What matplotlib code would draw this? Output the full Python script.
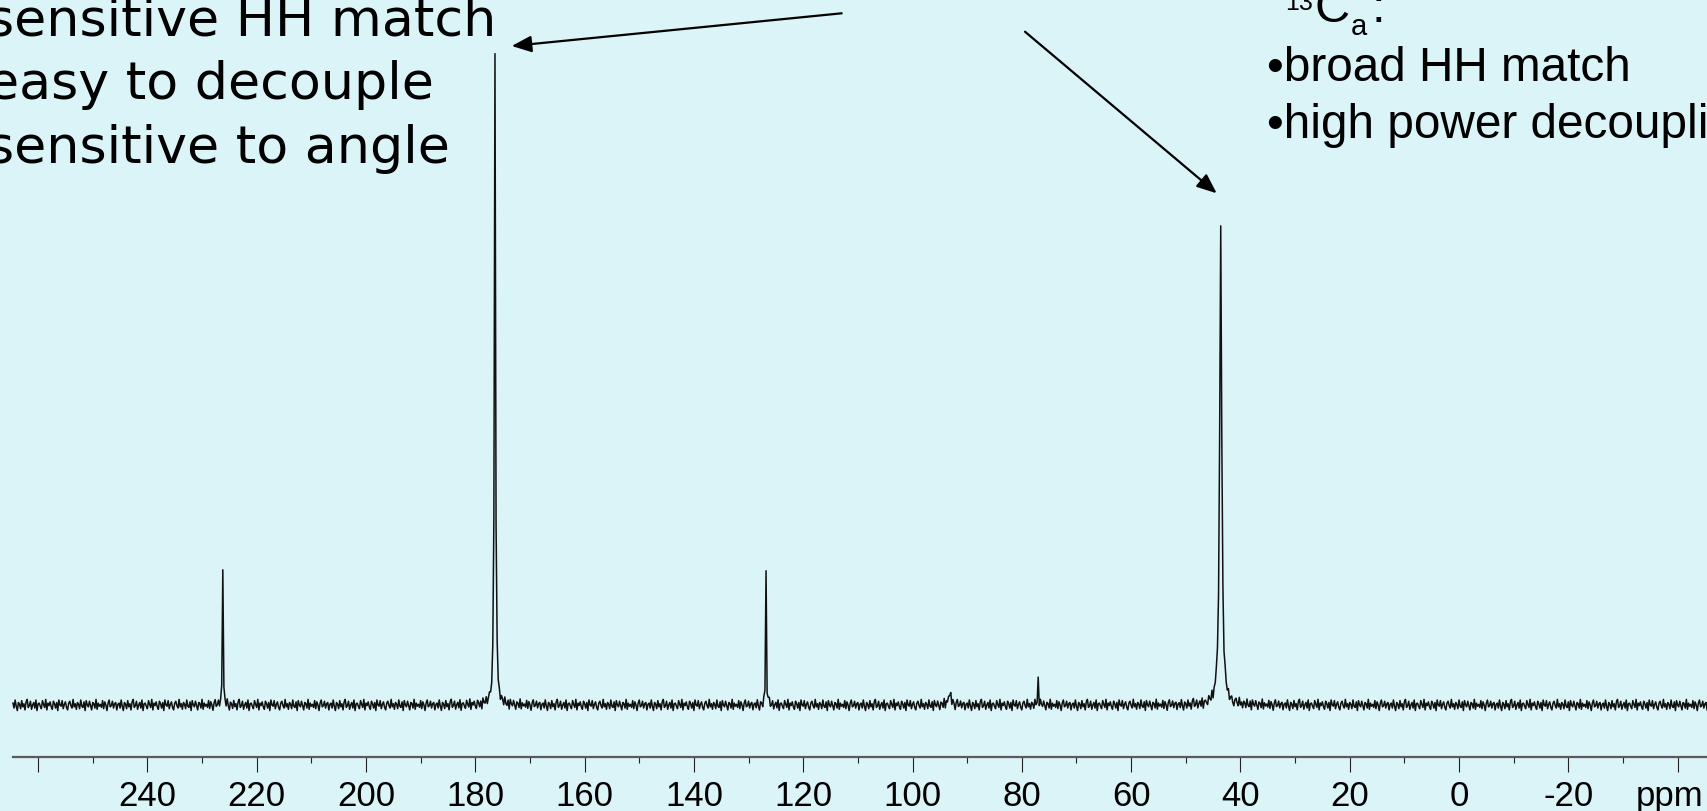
import numpy as np
import matplotlib
matplotlib.use("Agg")
import matplotlib.pyplot as plt
from matplotlib.patches import FancyArrowPatch

# ---- spectrum data ----------------------------------------------------
peak_ppm = [226.2, 176.4, 126.8, 93.2, 77.0, 43.6]
peak_height = [21.5, 100.0, 20.4, 1.8, 3.8, 73.3]
peak_fwhm = [0.15, 0.25, 0.15, 0.6, 0.2, 0.45]

# baseline ripple pattern (repeated along the chemical-shift axis)
baseline_ripple = [0.3, -0.5, 0.8, -0.2, -0.9, 0.4, 0.1, -0.6, 0.7, -0.3, 0.2, -0.8,
                   0.5, 0.9, -0.4, -0.1, 0.6, -0.7, 0.0, 0.4, -0.5, 0.8, -0.9, 0.2,
                   0.3, -0.2, -0.6, 0.7, 0.1, -0.4, 0.9, -0.8, 0.3, -0.1, 0.5, -0.3,
                   -0.7, 0.6, 0.2, -0.5, 0.4, -0.9, 0.8, 0.0, -0.2, 0.7, -0.6, 0.1,
                   0.5, -0.4, -0.8, 0.3, 0.6, -0.1, -0.5, 0.9, -0.3, 0.2, -0.7, 0.4,
                   0.1, -0.6, 0.8, -0.2, -0.4, 0.5, -0.9, 0.7, 0.0, -0.3, 0.6, -0.1,
                   -0.8, 0.4, 0.2, -0.5, 0.9, -0.7, 0.3, -0.2, 0.1, -0.4, 0.7, -0.6,
                   0.5, 0.0, -0.9, 0.3, 0.8, -0.3, -0.1, 0.6, -0.5, 0.2, 0.4, -0.8, 0.1]

major_ticks = [260, 240, 220, 200, 180, 160, 140, 120, 100, 80, 60, 40, 20, 0, -20, -40]
major_labels = ["", "240", "220", "200", "180", "160", "140", "120", "100",
                "80", "60", "40", "20", "0", "-20", ""]
minor_ticks = [250, 230, 210, 190, 170, 150, 130, 110, 90, 70, 50, 30, 10, -10, -30]

left_notes = ["sensitive HH match", "easy to decouple", "sensitive to angle"]
right_notes = ["\u2022broad HH match", "\u2022high power decoupling"]

# ---- build the trace ----------------------------------------------------
ppm = 264.6 - 0.2 * np.arange(1551)
intensity = np.zeros_like(ppm)
for c, h, w in zip(peak_ppm, peak_height, peak_fwhm):
    intensity += h / (1.0 + ((ppm - c) / (w / 2.0)) ** 2)
ripple = np.resize(np.array(baseline_ripple), ppm.size)
intensity += 0.95 * ripple

BG = "#DAF4F8"
W, H = 1708, 811

fig = plt.figure(figsize=(W / 100, H / 100), dpi=100, facecolor=BG)
ax = fig.add_axes([0, 0, 1, 1])
ax.set_facecolor(BG)

ax.plot(ppm, intensity, color="#111111", lw=1.1)

ax.set_xlim(266.97, -45.56)
ax.set_ylim(-16.26, 108.13)

for s in ("top", "left", "right"):
    ax.spines[s].set_visible(False)
ax.spines["bottom"].set_position(("data", -7.98))
ax.spines["bottom"].set_bounds(264.6, -45.56)
ax.spines["bottom"].set_color("#5a5a5a")
ax.spines["bottom"].set_linewidth(1.6)
ax.set_yticks([])

ax.set_xticks(major_ticks)
ax.set_xticklabels(major_labels, fontfamily="Liberation Sans", fontsize=25)
ax.set_xticks(minor_ticks, minor=True)
ax.tick_params(axis="x", which="major", direction="out", length=10.8, width=0.8,
               color="#222222", pad=6.0)
ax.tick_params(axis="x", which="minor", direction="out", length=4.5, width=0.8,
               color="#222222")
# unit label sits in the tick-label row
ax.text(-38.6, -7.98 - (10.8 + 6.0) / 0.72 / 6.52, "ppm", transform=ax.transData,
        ha="center", va="top", fontfamily="Liberation Sans", fontsize=25)


def fpx(x, y):
    """image pixel (origin top-left) -> figure fraction"""
    return x / W, 1 - y / H


# ---- annotations --------------------------------------------------------
for i, line in enumerate(left_notes):
    x, y = fpx(-13, 36 + 63.5 * i)
    fig.text(x, y, line, ha="left", va="baseline", fontfamily="DejaVu Sans",
             fontsize=37.6, color="black")

x, y = fpx(1285, 10)
fig.text(x, y, "13", ha="left", va="baseline", fontfamily="Liberation Sans", fontsize=18)
x, y = fpx(1315, 22)
fig.text(x, y, "C", ha="left", va="baseline", fontfamily="Liberation Sans", fontsize=35)
x, y = fpx(1351, 35)
fig.text(x, y, "a", ha="left", va="baseline", fontfamily="Liberation Sans", fontsize=21)
x, y = fpx(1372, 22)
fig.text(x, y, ":", ha="left", va="baseline", fontfamily="Liberation Sans", fontsize=35)

for i, line in enumerate(right_notes):
    x, y = fpx(1267, 81 + 57 * i)
    fig.text(x, y, line, ha="left", va="baseline", fontfamily="Liberation Sans",
             fontsize=34.4, color="black")

for (x0, y0), (x1, y1) in [((841.7, 13.3), (511.7, 46.0)),
                           ((1025.0, 31.7), (1216.7, 193.3))]:
    arr = FancyArrowPatch(fpx(x0, y0), fpx(x1, y1), transform=fig.transFigure,
                          arrowstyle="-|>,head_length=1.2,head_width=0.5",
                          mutation_scale=10, lw=1.6, color="black",
                          shrinkA=0, shrinkB=0)
    fig.patches.append(arr)

fig.savefig("out.png", dpi=100, facecolor=BG)
